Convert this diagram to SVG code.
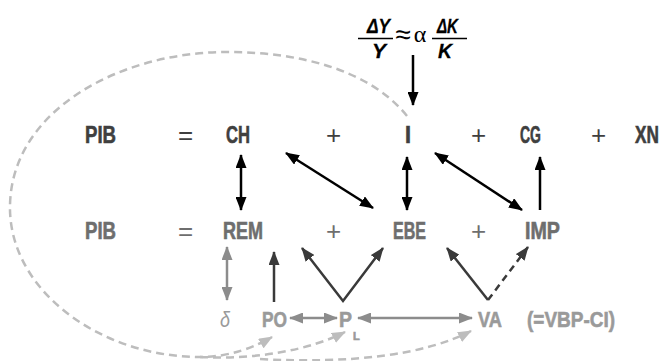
<svg xmlns="http://www.w3.org/2000/svg" width="664" height="361" viewBox="0 0 664 361">
<defs>
<style>
text{font-family:"Liberation Sans","DejaVu Sans",sans-serif;font-weight:bold;font-size:23px}
.t1{fill:#3f3f3f;stroke:#3f3f3f;stroke-width:0.6}
.t2{fill:#6e6e6e;stroke:#6e6e6e;stroke-width:0.6}
.t3{fill:#9a9a9a;stroke:#9a9a9a;stroke-width:0.6}
.op{font-weight:normal;font-size:26px;stroke:none}
.f{fill:#000;font-style:italic;font-size:21px;stroke:#000;stroke-width:0.3}
.k{stroke:#000;stroke-width:2.5;fill:none}
.d{stroke:#3a3a3a;stroke-width:2.5;fill:none}
.g{stroke:#8c8c8c;stroke-width:2.5;fill:none}
.dash{stroke:#bdbdbd;stroke-width:2.5;fill:none;stroke-dasharray:8 5}
</style>
<marker id="ak" viewBox="0 0 14 11" refX="13" refY="5.5" markerWidth="14" markerHeight="11" markerUnits="userSpaceOnUse" orient="auto-start-reverse"><path d="M0,0 L14,5.5 L0,11 z" fill="#000"/></marker>
<marker id="ad" viewBox="0 0 14 11" refX="13" refY="5.5" markerWidth="14" markerHeight="11" markerUnits="userSpaceOnUse" orient="auto-start-reverse"><path d="M0,0 L14,5.5 L0,11 z" fill="#3a3a3a"/></marker>
<marker id="ag" viewBox="0 0 14 11" refX="13" refY="5.5" markerWidth="14" markerHeight="11" markerUnits="userSpaceOnUse" orient="auto-start-reverse"><path d="M0,0 L14,5.5 L0,11 z" fill="#8c8c8c"/></marker>
<marker id="al" viewBox="0 0 14 11" refX="13" refY="5.5" markerWidth="14" markerHeight="11" markerUnits="userSpaceOnUse" orient="auto"><path d="M0,0 L14,5.5 L0,11 z" fill="#bdbdbd"/></marker>
</defs>

<g id="connectors">
<path class="dash" d="M407,116 C370,70 300,52 227,52 C120,52 12,110 10,205 C8,290 100,357 200,357 C230,357 255,347 272,337" marker-end="url(#al)"/>
<path class="dash" d="M200,357 C255,360 310,350 345,332" marker-end="url(#al)"/>
<path class="dash" d="M260,359 C350,364 425,355 471,331" marker-end="url(#al)"/>
<line class="k" x1="413" y1="55" x2="413" y2="105" marker-end="url(#ak)"/>
<line class="k" x1="241" y1="155" x2="241" y2="210" marker-start="url(#ak)" marker-end="url(#ak)"/>
<line class="k" x1="286" y1="153" x2="373" y2="208" marker-start="url(#ak)" marker-end="url(#ak)"/>
<line class="k" x1="407" y1="157" x2="407" y2="210" marker-start="url(#ak)" marker-end="url(#ak)"/>
<line class="k" x1="435" y1="153" x2="522" y2="210" marker-start="url(#ak)" marker-end="url(#ak)"/>
<line class="k" x1="540" y1="210" x2="540" y2="157" marker-end="url(#ak)"/>
<line class="g" x1="227" y1="247" x2="227" y2="300" marker-start="url(#ag)" marker-end="url(#ag)"/>
<line class="d" x1="274" y1="302" x2="274" y2="252" marker-end="url(#ad)"/>
<polyline class="d" points="302,248 343,301 383,248" marker-start="url(#ad)" marker-end="url(#ad)"/>
<line class="g" x1="290" y1="318" x2="337" y2="318" marker-start="url(#ag)" marker-end="url(#ag)"/>
<line class="g" x1="358" y1="318" x2="472" y2="318" marker-start="url(#ag)" marker-end="url(#ag)"/>
<line class="d" x1="488" y1="300" x2="447" y2="248" marker-end="url(#ad)"/>
<line class="d" x1="488" y1="300" x2="528" y2="247" stroke-dasharray="7 5" marker-end="url(#ad)"/>
</g>

<g id="formula">
<text class="f" x="367" y="33" textLength="23" lengthAdjust="spacingAndGlyphs">ΔY</text>
<line x1="358" y1="38.5" x2="393" y2="38.5" stroke="#000" stroke-width="1.5"/>
<text class="f" x="372" y="58" textLength="14" lengthAdjust="spacingAndGlyphs">Y</text>
<text x="403" y="44" style="font-weight:normal;font-size:28px;fill:#000" text-anchor="middle">≈</text>
<text x="420" y="42" style="font-weight:normal;font-size:24px;fill:#000;font-family:'Liberation Serif',serif" text-anchor="middle">α</text>
<text class="f" x="437" y="33" textLength="21" lengthAdjust="spacingAndGlyphs">ΔK</text>
<line x1="432" y1="38.5" x2="467" y2="38.5" stroke="#000" stroke-width="1.5"/>
<text class="f" x="438" y="58" textLength="14" lengthAdjust="spacingAndGlyphs">K</text>
</g>

<g id="row1">
<text class="t1" x="85" y="143" textLength="31" lengthAdjust="spacingAndGlyphs">PIB</text>
<text class="t1 op" x="185.5" y="144" text-anchor="middle">=</text>
<text class="t1" x="226" y="143" textLength="24" lengthAdjust="spacingAndGlyphs">CH</text>
<text class="t1 op" x="333.5" y="144" text-anchor="middle">+</text>
<text class="t1" x="405" y="143" textLength="6" lengthAdjust="spacingAndGlyphs">I</text>
<text class="t1 op" x="478.5" y="144" text-anchor="middle">+</text>
<text class="t1" x="520" y="143" textLength="21" lengthAdjust="spacingAndGlyphs">CG</text>
<text class="t1 op" x="598.5" y="144" text-anchor="middle">+</text>
<text class="t1" transform="translate(635,143) scale(0.75,1)">XN</text>
</g>

<g id="row2">
<text class="t2" x="85" y="239" textLength="31" lengthAdjust="spacingAndGlyphs">PIB</text>
<text class="t2 op" x="185.5" y="240" text-anchor="middle">=</text>
<text class="t2" x="223" y="239" textLength="40" lengthAdjust="spacingAndGlyphs">REM</text>
<text class="t2 op" x="333.5" y="240" text-anchor="middle">+</text>
<text class="t2" x="393" y="239" textLength="33" lengthAdjust="spacingAndGlyphs">EBE</text>
<text class="t2 op" x="478.5" y="240" text-anchor="middle">+</text>
<text class="t2" x="525" y="239" textLength="35" lengthAdjust="spacingAndGlyphs">IMP</text>
</g>

<g id="row3">
<text class="t3" x="220" y="327" textLength="10" lengthAdjust="spacingAndGlyphs" style="font-style:italic;font-weight:normal;stroke:none">δ</text>
<text class="t3" x="262" y="327" textLength="25" lengthAdjust="spacingAndGlyphs" style="font-size:22px">PO</text>
<text class="t3" x="339" y="327" textLength="13" lengthAdjust="spacingAndGlyphs" style="font-size:22px">P</text>
<text class="t3" x="353" y="340" style="font-size:11px">L</text>
<text class="t3" x="478" y="327" textLength="24" lengthAdjust="spacingAndGlyphs" style="font-size:22px">VA</text>
<text class="t3" x="527" y="327" textLength="88" lengthAdjust="spacingAndGlyphs" style="font-size:22px">(=VBP-CI)</text>
</g>
</svg>
